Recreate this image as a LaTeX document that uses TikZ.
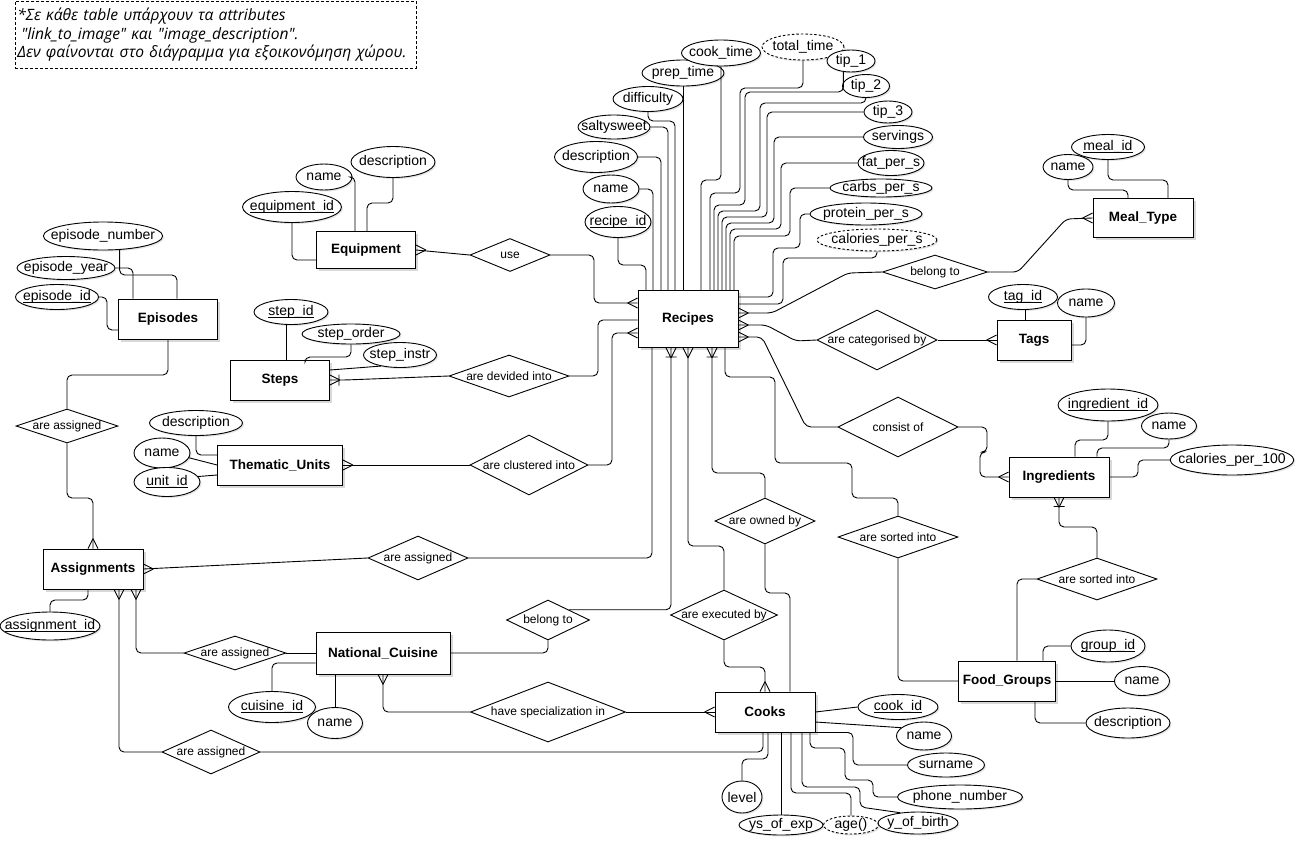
\documentclass[tikz,border=0pt]{standalone}
\usepackage{fontspec}
\setmainfont{Liberation Sans}
\newfontfamily\notefont{Open Sans}
\usetikzlibrary{shapes.geometric,shadows}

\newcommand{\keyattr}[1]{\setbox0\hbox{#1}\rlap{\rule[-2pt]{\wd0}{0.6pt}}\box0}

\tikzset{
  entity/.style={draw, fill=white, inner sep=0pt, font=\bfseries\fontsize{13.5}{16}\selectfont,
    drop shadow={shadow xshift=2.5pt, shadow yshift=-2.5pt, opacity=.3}},
  attr/.style={draw, ellipse, fill=white, inner xsep=-10pt, inner ysep=-3pt, font=\fontsize{14}{16}\selectfont,
    drop shadow={shadow xshift=1.5pt, shadow yshift=-1.5pt, opacity=.2}},
  derived/.style={attr, dash pattern=on 2.5pt off 2pt},
  rel/.style={draw, diamond, fill=white, aspect=3, inner xsep=0pt, inner ysep=-2pt, font=\fontsize{12}{14}\selectfont},
  link/.style={rounded corners=5pt},
  many/.pic={\draw (-10,0) -- (0,-5) (-10,0) -- (0,5);},
  onemany/.pic={\draw (-10,0) -- (0,-5) (-10,0) -- (0,5) (-9,-5.5) -- (-9,5.5);},
}

\begin{document}
\begin{tikzpicture}[x=1pt, y=-1pt, line width=0.9pt]
\fill[white] (0,0) rectangle (1296,841);
\useasboundingbox (0,0) rectangle (1296,841);

% nota
\node[draw, line width=0.6pt, dash pattern=on 3pt off 2pt, anchor=north west, minimum width=401pt, minimum height=67pt,
  inner xsep=2pt, text width=397pt, align=left, font=\notefont\itshape\fontsize{15.6}{18.5}\selectfont] (nota) at (15,1)
  {*Σε κάθε table υπάρχουν τα attributes\\\hspace*{4pt}"link\_to\_image" και "image\_description".\\Δεν φαίνονται στο διάγραμμα για εξοικονόμηση χώρου.};

% entities
\node[entity, minimum width=100pt, minimum height=57pt] (rec) at (688,319) {Recipes};
\node[entity, minimum width=99pt, minimum height=37pt] (eq) at (366,250) {Equipment};
\node[entity, minimum width=99pt, minimum height=40pt] (ep) at (168,319) {Episodes};
\node[entity, minimum width=99pt, minimum height=40pt] (steps) at (280,380) {Steps};
\node[entity, minimum width=125pt, minimum height=40pt] (tu) at (280,465) {Thematic\_Units};
\node[entity, minimum width=100pt, minimum height=40pt] (asg) at (93,569) {Assignments};
\node[entity, minimum width=134pt, minimum height=42pt] (nc) at (383,653) {National\_Cuisine};
\node[entity, minimum width=100pt, minimum height=40pt] (cooks) at (765,712) {Cooks};
\node[entity, minimum width=100pt, minimum height=39pt] (mt) at (1143,218) {Meal\_Type};
\node[entity, minimum width=74pt, minimum height=40pt] (tags) at (1034,340) {Tags};
\node[entity, minimum width=100pt, minimum height=40pt] (ing) at (1059,477) {Ingredients};
\node[entity, minimum width=97pt, minimum height=40pt] (fg) at (1007,681) {Food\_Groups};

% relationships
\node[rel, minimum width=80pt, minimum height=33pt] (use) at (510,255) {use};
\node[rel, minimum width=120pt, minimum height=42pt] (divided) at (509,376) {are devided into};
\node[rel, minimum width=118pt, minimum height=60pt] (clustered) at (529,465) {are clustered into};
\node[rel, minimum width=102pt, minimum height=34pt] (asg1) at (67,426) {are assigned};
\node[rel, minimum width=100pt, minimum height=44pt] (asg2) at (418,558) {are assigned};
\node[rel, minimum width=83pt, minimum height=40pt] (belnc) at (548,620) {belong to};
\node[rel, minimum width=102pt, minimum height=34pt] (asg3) at (235,653) {are assigned};
\node[rel, minimum width=155pt, minimum height=60pt] (spec) at (548,712) {have specialization in};
\node[rel, minimum width=98pt, minimum height=44pt] (asg4) at (211,752) {are assigned};
\node[rel, minimum width=100pt, minimum height=46pt] (owned) at (765,521) {are owned by};
\node[rel, minimum width=103pt, minimum height=50pt] (executed) at (724,615) {are executed by};
\node[rel, minimum width=105pt, minimum height=34pt] (belmt) at (935,272) {belong to};
\node[rel, minimum width=120pt, minimum height=60pt] (categ) at (877,340) {are categorised by};
\node[rel, minimum width=120pt, minimum height=60pt] (consist) at (898,427) {consist of};
\node[rel, minimum width=120pt, minimum height=42pt] (sorted1) at (898,537) {are sorted into};
\node[rel, minimum width=120pt, minimum height=42pt] (sorted2) at (1097,579) {are sorted into};

% attributes of Recipes
\node[attr, minimum width=66pt, minimum height=31pt] (rid) at (618,222) {\keyattr{recipe\_id}};
\node[attr, minimum width=56pt, minimum height=28pt] (rname) at (611,189) {name};
\node[attr, minimum width=83pt, minimum height=31pt] (rdesc) at (596,157) {description};
\node[attr, minimum width=72pt, minimum height=24pt] (salty) at (614,127) {saltysweet};
\node[attr, minimum width=70pt, minimum height=25pt] (diff) at (648,99) {difficulty};
\node[attr, minimum width=82pt, minimum height=26pt] (prep) at (683,73) {prep\_time};
\node[attr, minimum width=79pt, minimum height=26pt] (cook) at (721,53) {cook\_time};
\node[derived, minimum width=82pt, minimum height=26pt] (total) at (803,47) {total\_time};
\node[attr, minimum width=48pt, minimum height=22pt] (tip1) at (851,61) {tip\_1};
\node[attr, minimum width=47pt, minimum height=23pt] (tip2) at (866,86) {tip\_2};
\node[attr, minimum width=48pt, minimum height=22pt] (tip3) at (888,112) {tip\_3};
\node[attr, minimum width=69pt, minimum height=23pt] (serv) at (898,137) {servings};
\node[attr, minimum width=66pt, minimum height=25pt] (fat) at (891,163) {fat\_per\_s};
\node[attr, minimum width=102pt, minimum height=18pt] (carbs) at (881,188) {carbs\_per\_s};
\node[attr, minimum width=112pt, minimum height=22pt] (prot) at (866,214) {protein\_per\_s};
\node[derived, minimum width=120pt, minimum height=22pt] (calps) at (877,240) {calories\_per\_s};

% other attributes
\node[attr, minimum width=99pt, minimum height=31pt] (eqid) at (292,207) {\keyattr{equipment\_id}};
\node[attr, minimum width=56pt, minimum height=26pt] (eqname) at (324,177) {name};
\node[attr, minimum width=84pt, minimum height=31pt] (eqdesc) at (393,162) {description};
\node[attr, minimum width=113pt, minimum height=28pt] (epnum) at (103,236) {episode\_number};
\node[attr, minimum width=98pt, minimum height=23pt] (epyear) at (66,268) {episode\_year};
\node[attr, minimum width=83pt, minimum height=25pt] (epid) at (57,297) {\keyattr{episode\_id}};
\node[attr, minimum width=74pt, minimum height=25pt] (stid) at (291,312) {\keyattr{step\_id}};
\node[attr, minimum width=98pt, minimum height=20pt] (storder) at (351,334) {step\_order};
\node[attr, minimum width=73pt, minimum height=25pt] (stinstr) at (400,355) {step\_instr};
\node[attr, minimum width=93pt, minimum height=25pt] (tudesc) at (196,423) {description};
\node[attr, minimum width=56pt, minimum height=30pt] (tuname) at (162,453) {name};
\node[attr, minimum width=66pt, minimum height=29pt] (tuid) at (167,482) {\keyattr{unit\_id}};
\node[attr, minimum width=100pt, minimum height=28pt] (asid) at (50,626) {\keyattr{assignment\_id}};
\node[attr, minimum width=87pt, minimum height=31pt] (ncid) at (272,707) {\keyattr{cuisine\_id}};
\node[attr, minimum width=55pt, minimum height=31pt] (ncname) at (335,723) {name};
\node[attr, minimum width=80pt, minimum height=25pt] (cid) at (898,707) {\keyattr{cook\_id}};
\node[attr, minimum width=55pt, minimum height=28pt] (cname) at (924,736) {name};
\node[attr, minimum width=77pt, minimum height=24pt] (csur) at (946,765) {surname};
\node[attr, minimum width=125pt, minimum height=24pt] (cphone) at (960,797) {phone\_number};
\node[attr, minimum width=84pt, minimum height=20pt] (cexp) at (781,825) {ys\_of\_exp};
\node[attr, minimum width=80pt, minimum height=22pt] (cyob) at (918,823) {y\_of\_birth};
\node[derived, minimum width=55pt, minimum height=18pt] (cage) at (851,825) {age()};
\node[attr, minimum width=40pt, minimum height=32pt] (clevel) at (742,797) {level};
\node[attr, minimum width=73pt, minimum height=25pt] (mtid) at (1108,147) {\keyattr{meal\_id}};
\node[attr, minimum width=50pt, minimum height=25pt] (mtname) at (1068,167) {name};
\node[attr, minimum width=69pt, minimum height=25pt] (tagid) at (1023,297) {\keyattr{tag\_id}};
\node[attr, minimum width=57pt, minimum height=28pt] (tagname) at (1086,303) {name};
\node[attr, minimum width=100pt, minimum height=32pt] (ingid) at (1108,405) {\keyattr{ingredient\_id}};
\node[attr, minimum width=55pt, minimum height=26pt] (ingname) at (1169,426) {name};
\node[attr, minimum width=123pt, minimum height=30pt] (ingcal) at (1232,460) {calories\_per\_100};
\node[attr, minimum width=74pt, minimum height=32pt] (fgid) at (1108,646) {\keyattr{group\_id}};
\node[attr, minimum width=55pt, minimum height=29pt] (fgname) at (1142,681) {name};
\node[attr, minimum width=84pt, minimum height=30pt] (fgdesc) at (1128,723) {description};

% Recipes attribute lines
\draw[link] (rid.south) |- (646,265) -- (646,0 |- rec.north);
\draw[link] (rname.east) -| (653,0 |- rec.north);
\draw[link] (rdesc.east) -| (661,0 |- rec.north);
\draw[link] (salty.east) -| (668,0 |- rec.north);
\draw[link] (diff.south) |- (675,121) -- (675,0 |- rec.north);
\draw (prep.south) -- (prep.south |- rec.north);
\draw[link] (cook.south) |- (701,180) -- (701,0 |- rec.north);
\draw[link] (total.south) |- (740,88) |- (710,193) -- (710,0 |- rec.north);
\draw[link] (tip1.235) |- (745,92) |- (714,205) -- (714,0 |- rec.north);
\draw[link] (tip2.south) |- (760,103) |- (718,211) -- (718,0 |- rec.north);
\draw[link] (tip3.west) -| (767,217) -| (722,0 |- rec.north);
\draw[link] (serv.west) -| (774,223) -| (726,0 |- rec.north);
\draw[link] (fat.west) -| (781,229) -| (730,0 |- rec.north);
\draw[link] (carbs.west) -| (790,236) -| (734,0 |- rec.north);
\draw[link] (prot.west) -| (800,248) -| (773,297) -- (rec.east |- 0,297);
\draw[link] (calps.south) |- (783,258) |- (rec.east |- 0,304);

% Recipes relationships
\draw[link] (rec.east |- 0,313) -- (772,313) -- (848,273) -- (belmt.west);
\draw[link] (belmt.east) -- (1018,272) -- (1066,219) -- (mt.west);
\draw[link] (rec.east |- 0,325) -- (766,325) -- (796,341) -- (categ.west);
\draw (categ.east) -- (tags.west);
\draw[link] (rec.east |- 0,337) -- (762,337) -- (806,427) -- (consist.west);
\draw[link] (consist.east) -| (987,452) -| (980,477) -- (ing.west);
\draw[link] (ing.south) |- (1097,527) -- (sorted2.north);
\draw[link] (sorted2.west) -| (1017,0 |- fg.north);
\draw[link] (725,0 |- rec.south) |- (775,377) |- (852,463) |- (898,498) -- (sorted1.north);
\draw[link] (sorted1.south) |- (fg.west);
\draw[link] (652,0 |- rec.south) |- (asg2.east);
\draw (asg2.west) -- (asg.east);
\draw[link] (671,0 |- rec.south) |- (belnc.north east);
\draw[link] (belnc.south) |- (nc.east);
\draw[link] (688,0 |- rec.south) |- (724,546) -- (executed.north);
\draw[link] (executed.south) |- (765,667) -- (cooks.north);
\draw[link] (712,0 |- rec.south) |- (765,473) -- (owned.north);
\draw[link] (owned.south) |- (790,593) -- (790,0 |- cooks.north);
\draw (eq.east) -- (use.west);
\draw[link] (use.east) -| (594,303) -- (rec.west |- 0,303);
\draw[link] (steps.east) -- (345,380) -- (divided.west);
\draw[link] (divided.east) -| (598,320) -- (rec.west |- 0,320);
\draw (tu.east) -- (clustered.west);
\draw[link] (clustered.east) -| (612,333) -- (rec.west |- 0,333);

% Assignments, Cuisine, Cooks
\draw[link] (asg1.south) |- (93,498) -- (93,0 |- asg.north);
\draw[link] (asg1.north) |- (168,375) -- (ep.south);
\draw[link] (136,0 |- asg.south) |- (asg3.west);
\draw (asg3.east) -- (nc.west);
\draw[link] (119,0 |- asg.south) |- (asg4.west);
\draw[link] (asg4.east) -| (763,0 |- cooks.south);
\draw[link] (spec.west) -| (nc.south);
\draw (spec.east) -- (cooks.west);
\draw[link] (88,0 |- asg.south) |- (50,600) -- (asid.north);

% other attribute lines
\draw (cooks.east) -- (cid.west);
\draw (cooks.east |- 0,722) -- (cname.160);
\draw[link] (cooks.south east) -| (853,0 |- csur.west) -- (csur.west);
\draw[link] (810,0 |- cooks.south) |- (845,748) |- (873,780) |- (cphone.west);
\draw[link] (802,0 |- cooks.south) |- (860,787) -- (860,807) -- (cyob.150);
\draw[link] (791,0 |- cooks.south) |- (851,793) -- (cage.north);
\draw (cexp.north |- cooks.south) -- (cexp.north);
\draw[link] (768,0 |- cooks.south) |- (742,759) -- (clevel.north);
\draw[link] (eqid.south) |- (eq.west |- 0,260);
\draw[link] (eqname.east) -| (355,0 |- eq.north);
\draw[link] (eqdesc.south) |- (367,203) -- (367,0 |- eq.north);
\draw[link] (epnum.-40) |- (177,275) -- (177,0 |- ep.north);
\draw[link] (epyear.east) -| (133,0 |- ep.north);
\draw[link] (epid.east) -| (107,330) -- (ep.west |- 0,330);
\draw (286,0 |- stid.south) -- (286,0 |- steps.north);
\draw[link] (storder.south) |- (305,357) -- (305,0 |- steps.north);
\draw (steps.east |- 0,370) -- (stinstr.210);
\draw[link] (tudesc.south) |- (tu.west |- 0,455);
\draw (tuname.-10) -- (tu.west);
\draw (tuid.10) -- (tu.west |- 0,475);
\draw[link] (ncid.north) |- (nc.west |- 0,663);
\draw (ncname.north) -- (ncname.north |- nc.south);
\draw[link] (mtid.south) |- (1168,180) -- (1168,0 |- mt.north);
\draw[link] (mtname.south) |- (1128,190) -- (1128,0 |- mt.north);
\draw (1025,0 |- tagid.south) -- (1025,0 |- tags.north);
\draw[link] (tagname.south) |- (tags.east |- 0,345);
\draw[link] (ingid.south) |- (1075,440) -- (1075,0 |- ing.north);
\draw[link] (ingname.south) |- (1097,448) -- (1097,0 |- ing.north);
\draw[link] (ing.east) -| (1138,460) -- (ingcal.west);
\draw[link] (fgid.west) -| (1043,0 |- fg.north);
\draw (fg.east) -- (fgname.west);
\draw[link] (1035,0 |- fg.south) |- (fgdesc.west);

% cardinality marks
\pic[rotate=180] at (eq.east) {many};
\pic at (rec.west |- 0,303) {many};
\pic at (rec.west |- 0,333) {many};
\pic[rotate=180] at (steps.east) {onemany};
\pic[rotate=180] at (tu.east) {many};
\foreach \y in {313,325,337}
  \pic[rotate=180] at (rec.east |- 0,\y) {many};
\pic[rotate=90] at (671,0 |- rec.south) {onemany};
\pic[rotate=90] at (688,0 |- rec.south) {many};
\pic[rotate=90] at (712,0 |- rec.south) {onemany};
\pic at (mt.west) {many};
\pic at (tags.west) {many};
\pic at (ing.west) {many};
\pic[rotate=90] at (ing.south) {onemany};
\pic[rotate=180] at (asg.east) {many};
\pic[rotate=-90] at (93,0 |- asg.north) {many};
\pic[rotate=90] at (119,0 |- asg.south) {many};
\pic[rotate=90] at (136,0 |- asg.south) {many};
\pic[rotate=90] at (nc.south) {many};
\pic at (cooks.west) {many};
\pic[rotate=-90] at (cooks.north) {many};
\end{tikzpicture}
\end{document}
